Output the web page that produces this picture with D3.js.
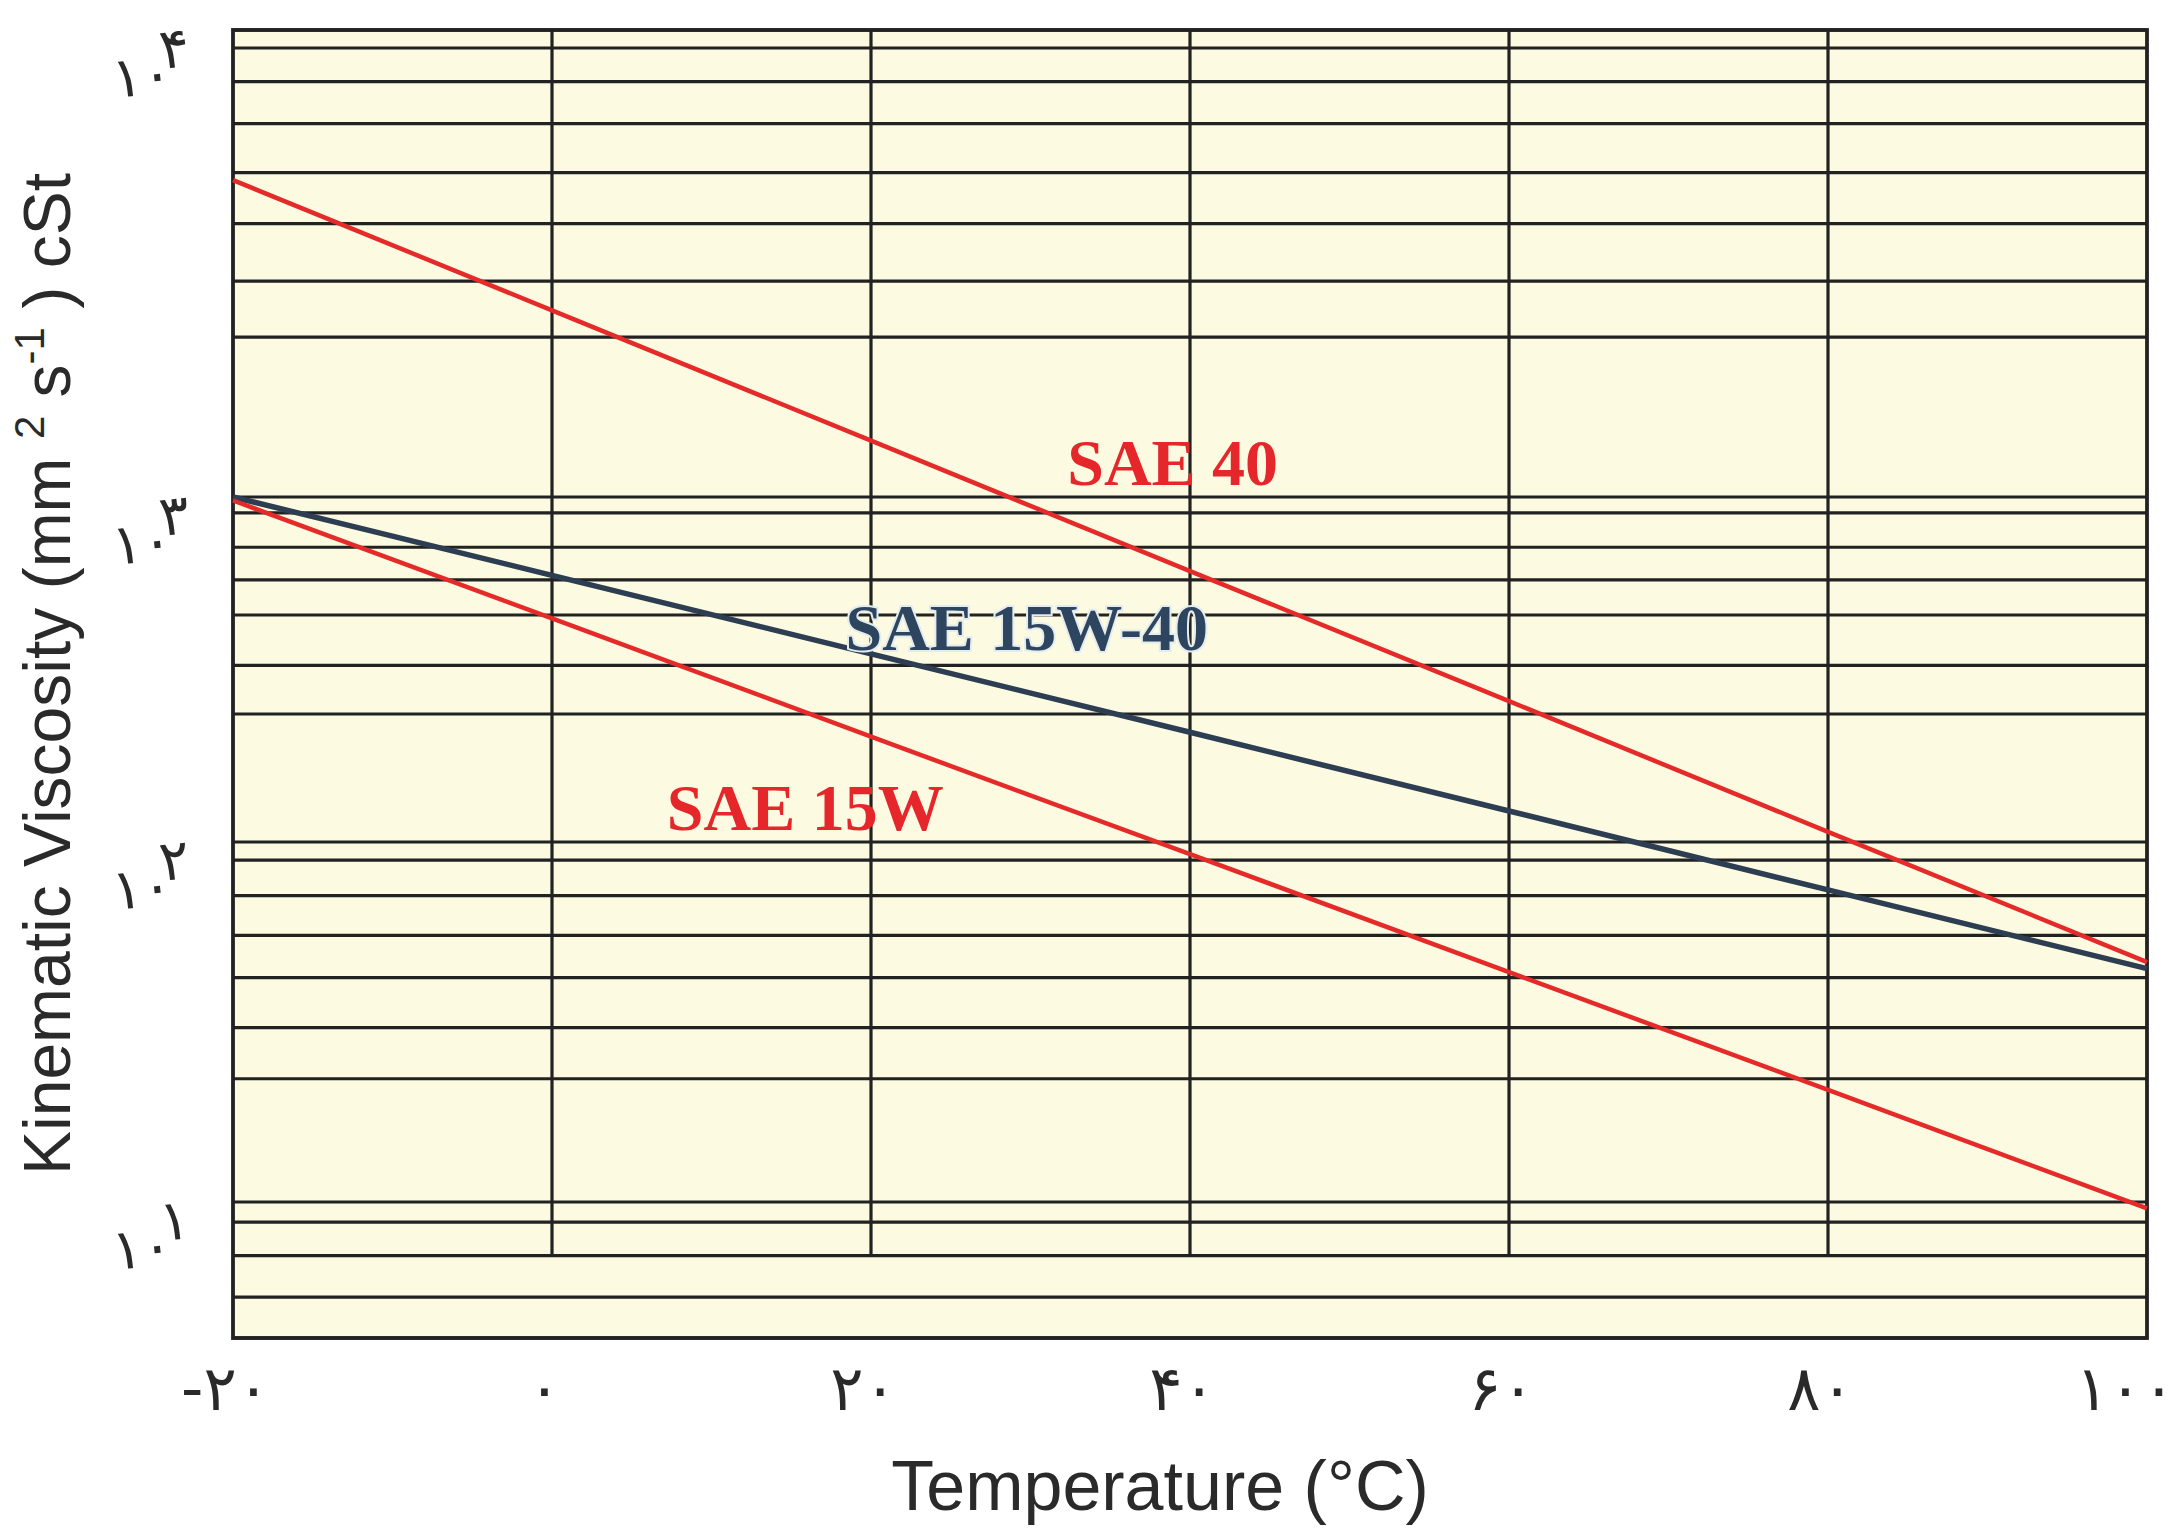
<!DOCTYPE html>
<html>
<head>
<meta charset="utf-8">
<script src="https://cdn.jsdelivr.net/npm/d3@7"></script>
<style>
  body { margin: 0; background: #fff; }
</style>
</head>
<body>
<div id="chart"></div>
<script>
// viscosity (cSt) at every 20 °C
var temps = [-20, 0, 20, 40, 60, 80, 100];
var sae40 = [4770, 2510, 1320, 610, 256, 107, 46.4];
var sae15w40 = [1000, 593, 351, 208, 123, 73.6, 44.5];
var sae15w = [977, 445, 202, 92.5, 43.5, 20.5, 9.6];

var seriesNames = ["SAE 40", "SAE 15W-40", "SAE 15W"];
// where each name sits: [temperature, viscosity] of the start of the text
var labelAnchors = [[32.3, 1061], [18.4, 360], [7.2, 108]];

var xTicks = [-20, 0, 20, 40, 60, 80, 100];
var xTickLabels = ["-۲۰", "۰", "۲۰", "۴۰", "۶۰", "۸۰", "۱۰۰"];
var yDecades = [10, 100, 1000, 10000];
var yDecadeExp = ["۱", "۲", "۳", "۴"];

// horizontal rulings of the chart paper (cSt)
var hLines = [9150, 7750, 6300, 4950, 3850, 2900, 2200,
              900, 715, 575, 455, 325, 235,
              89, 71, 55, 42, 30.5, 22,
              8.8, 7.1, 5.45, 4.2];
var vLines = [0, 20, 40, 60, 80];
var vLineBottom = 7.1;
var yMin = 4.2, yMax = 10000;

var W = 2179, H = 1533;

var svg = d3.select("#chart").append("svg")
    .attr("width", W)
    .attr("height", H);

var x = d3.scaleLinear().domain([-20, 100]).range([233, 2147]);

// the paper has uneven decades, so a piecewise log scale
var y = d3.scaleLog()
    .domain([yMin, 10, 100, 1000, 10000])
    .range([1338, 1202, 842, 497, 30]);

// paper background
svg.append("rect")
    .attr("x", x(-20))
    .attr("y", y(yMax))
    .attr("width", x(100) - x(-20))
    .attr("height", y(yMin) - y(yMax))
    .style("fill", "#fcfbe2");

var grid = svg.append("g").style("stroke", "#222").style("stroke-width", 3.2);

grid.selectAll(".hl")
    .data(yDecades.concat(hLines))
    .enter().append("line")
    .attr("x1", x(-20)).attr("x2", x(100))
    .attr("y1", function(d) { return y(d); })
    .attr("y2", function(d) { return y(d); });

grid.selectAll(".vl")
    .data(vLines)
    .enter().append("line")
    .attr("x1", function(d) { return x(d); })
    .attr("x2", function(d) { return x(d); })
    .attr("y1", y(yMax))
    .attr("y2", y(vLineBottom));

// frame
svg.append("rect")
    .attr("x", x(-20))
    .attr("y", y(yMax))
    .attr("width", x(100) - x(-20))
    .attr("height", y(yMin) - y(yMax))
    .style("fill", "none")
    .style("stroke", "#222")
    .style("stroke-width", 3.8);

// curves
var line = d3.line()
    .x(function(d) { return x(d[0]); })
    .y(function(d) { return y(d[1]); });

var series = [
  {name: seriesNames[0], values: sae40, color: "#e52a2a", width: 4.5},
  {name: seriesNames[1], values: sae15w40, color: "#2d3e52", width: 5.5},
  {name: seriesNames[2], values: sae15w, color: "#e52a2a", width: 4.5}
];

svg.selectAll(".curve")
    .data(series)
    .enter().append("path")
    .attr("d", function(s) { return line(d3.zip(temps, s.values)); })
    .style("fill", "none")
    .style("stroke", function(s) { return s.color; })
    .style("stroke-width", function(s) { return s.width; });

// series names
svg.selectAll(".name")
    .data(series)
    .enter().append("text")
    .attr("x", function(s, i) { return x(labelAnchors[i][0]); })
    .attr("y", function(s, i) { return y(labelAnchors[i][1]); })
    .text(function(s) { return s.name; })
    .style("font-family", "'Liberation Serif', 'Times New Roman', serif")
    .style("font-weight", "bold")
    .style("font-size", "66px")
    .style("fill", function(s, i) { return i == 1 ? "#2e4560" : "#e5262a"; })
    .style("stroke", function(s, i) { return i == 1 ? "#e4ecee" : "none"; })
    .style("stroke-width", 4)
    .style("paint-order", "stroke");

// x axis labels
var xAxis = d3.axisBottom(x)
    .tickValues(xTicks)
    .tickFormat(function(d, i) { return xTickLabels[i]; })
    .tickSize(0);

var gx = svg.append("g")
    .attr("transform", "translate(0," + y(yMin) + ")")
    .call(xAxis);
gx.select(".domain").remove();
gx.selectAll("text")
    .attr("y", 72)
    .attr("dy", null)
    .attr("dx", function(d) { return d == 100 ? -22 : -8; })
    .style("font-family", "'DejaVu Sans', sans-serif")
    .style("font-size", "62px")
    .style("fill", "#2a2a2a");

// y decade labels, 10 with a raised exponent
var yl = svg.selectAll(".ylab")
    .data(yDecades)
    .enter().append("text")
    .attr("transform", function(d) { return "translate(114," + (y(d) + 68) + ") rotate(-6)"; })
    .style("font-family", "'DejaVu Sans', sans-serif")
    .style("font-size", "56px")
    .style("fill", "#2a2a2a");
yl.append("tspan").text("۱۰");
yl.append("tspan")
    .attr("dx", -10)
    .attr("dy", -24)
    .text(function(d, i) { return yDecadeExp[i]; });

// axis titles
svg.append("text")
    .attr("x", 1160)
    .attr("y", 1510)
    .attr("text-anchor", "middle")
    .text("Temperature (°C)")
    .style("font-family", "'Liberation Sans', Arial, sans-serif")
    .style("font-size", "70px")
    .style("fill", "#2a2a2a");

var yt = svg.append("text")
    .attr("transform", "translate(70,674) rotate(-90)")
    .attr("text-anchor", "middle")
    .style("font-family", "'Liberation Sans', Arial, sans-serif")
    .style("font-size", "66px")
    .style("fill", "#2a2a2a");
yt.append("tspan").text("Kinematic Viscosity (mm ");
yt.append("tspan").attr("dy", -26).style("font-size", "42px").text("2");
yt.append("tspan").attr("dy", 26).text(" s");
yt.append("tspan").attr("dy", -26).style("font-size", "42px").text("-1");
yt.append("tspan").attr("dy", 26).text(" ) cSt");
</script>
</body>
</html>
